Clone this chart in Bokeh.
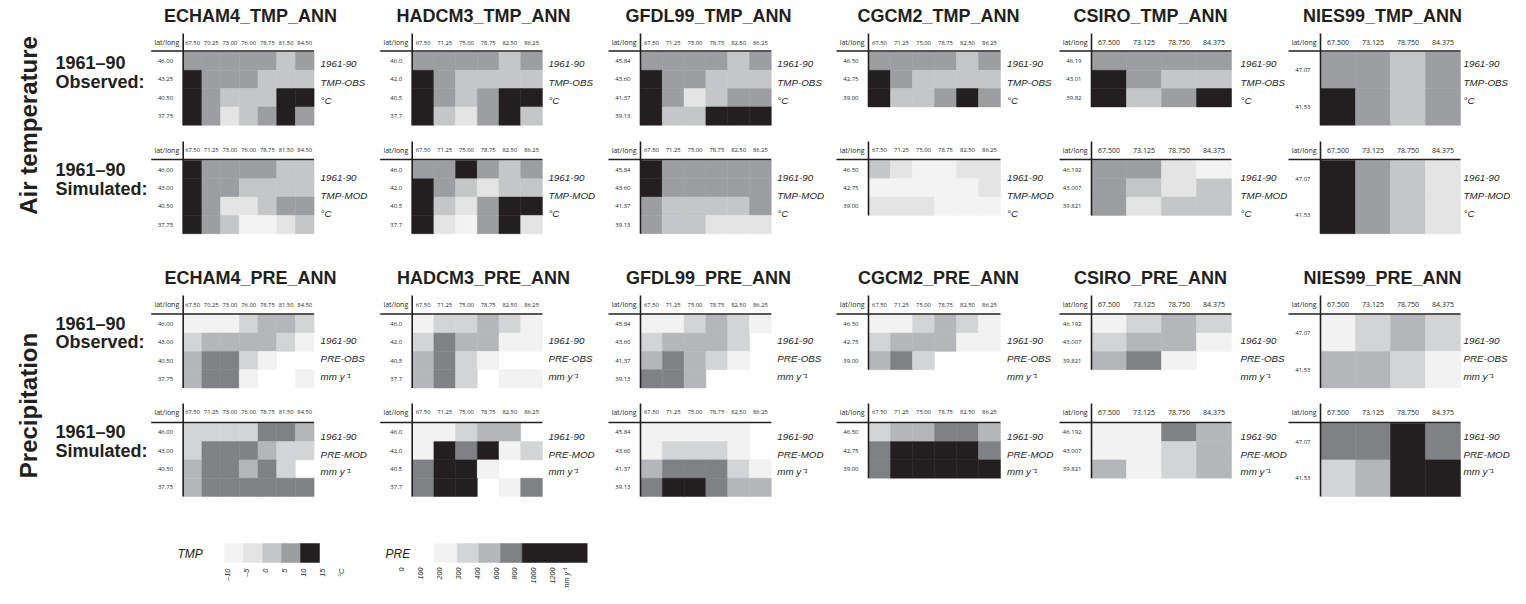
import numpy as np
from bokeh.plotting import figure
from bokeh.models import Range1d, ColumnDataSource
from bokeh.core.properties import value
from bokeh.embed import file_html
from bokeh.resources import INLINE

# ---------------- data ----------------
models = ["ECHAM4", "HADCM3", "GFDL99", "CGCM2", "CSIRO", "NIES99"]

echam4_lon_a = ["67.50", "70.25", "73.00", "76.00", "78.75", "81.50", "84.50"]
echam4_lon_b = ["67.50", "71.25", "73.00", "76.00", "78.75", "81.50", "84.50"]
echam4_lat_a = ["46.00", "43.25", "40.50", "37.75"]
echam4_lat_b = ["46.00", "43.00", "40.50", "37.75"]
hadcm3_lon = ["67.50", "71.25", "75.00", "78.75", "82.50", "86.25"]
hadcm3_lat = ["46.0", "42.0", "40.5", "37.7"]
gfdl99_lon = ["67.50", "71.25", "75.00", "78.75", "82.50", "86.25"]
gfdl99_lat = ["45.84", "43.60", "41.37", "39.13"]
cgcm2_lon = ["67.50", "71.25", "75.00", "78.75", "82.50", "86.25"]
cgcm2_lat = ["46.50", "42.75", "39.00"]
csiro_lon = ["67.500", "73.125", "78.750", "84.375"]
csiro_lat_a = ["46.19", "43.01", "39.82"]
csiro_lat_b = ["46.192", "43.007", "39.821"]
nies99_lon = ["67.500", "73.125", "78.750", "84.375"]
nies99_lat = ["47.07", "41.53"]

# annual mean air temperature, deg C (rows: north -> south)
echam4_tmp_obs = [[7.5, 7.5, 7.5, 7.5, 7.5, 2.5, 7.5],
                  [12.5, 7.5, 7.5, 7.5, 2.5, 2.5, 2.5],
                  [12.5, 7.5, 2.5, 2.5, 2.5, 12.5, 12.5],
                  [12.5, 7.5, -2.5, 2.5, 7.5, 12.5, 7.5]]
echam4_tmp_mod = [[12.5, 7.5, 7.5, 7.5, 7.5, 2.5, 2.5],
                  [12.5, 7.5, 7.5, 2.5, 2.5, 2.5, 2.5],
                  [12.5, 7.5, -2.5, -2.5, 2.5, 7.5, 7.5],
                  [12.5, 7.5, 2.5, -7.5, -7.5, -2.5, 2.5]]
hadcm3_tmp_obs = [[7.5, 7.5, 7.5, 7.5, 2.5, 7.5],
                  [12.5, 7.5, 2.5, 2.5, 2.5, 2.5],
                  [12.5, 7.5, 2.5, 7.5, 12.5, 12.5],
                  [12.5, 2.5, -2.5, 7.5, 12.5, 2.5]]
hadcm3_tmp_mod = [[7.5, 7.5, 12.5, 7.5, 2.5, 7.5],
                  [12.5, 7.5, 2.5, -2.5, 2.5, 2.5],
                  [12.5, 2.5, -2.5, 7.5, 12.5, 12.5],
                  [12.5, -2.5, -7.5, 7.5, 12.5, -2.5]]
gfdl99_tmp_obs = [[7.5, 7.5, 7.5, 7.5, 2.5, 7.5],
                  [12.5, 7.5, 7.5, 2.5, 2.5, 2.5],
                  [12.5, 7.5, -2.5, 2.5, 7.5, 7.5],
                  [12.5, 2.5, 2.5, 12.5, 12.5, 12.5]]
gfdl99_tmp_mod = [[12.5, 7.5, 7.5, 7.5, 7.5, 7.5],
                  [12.5, 7.5, 7.5, 7.5, 7.5, 7.5],
                  [7.5, 2.5, 2.5, 2.5, 2.5, 7.5],
                  [7.5, 2.5, 2.5, -2.5, -2.5, -2.5]]
cgcm2_tmp_obs = [[7.5, 7.5, 7.5, 7.5, 2.5, 7.5],
                 [12.5, 7.5, 2.5, 2.5, 2.5, 2.5],
                 [12.5, 2.5, 2.5, 7.5, 12.5, 7.5]]
cgcm2_tmp_mod = [[2.5, -2.5, -7.5, -7.5, -2.5, -2.5],
                 [-7.5, -7.5, -7.5, -7.5, -7.5, -2.5],
                 [-2.5, -2.5, -2.5, -7.5, -7.5, -7.5]]
csiro_tmp_obs = [[7.5, 7.5, 7.5, 7.5],
                 [12.5, 7.5, 2.5, 2.5],
                 [12.5, 2.5, 7.5, 12.5]]
csiro_tmp_mod = [[7.5, 7.5, -2.5, -7.5],
                 [7.5, 2.5, -2.5, 2.5],
                 [7.5, -2.5, 2.5, 2.5]]
nies99_tmp_obs = [[7.5, 7.5, 2.5, 7.5],
                  [12.5, 7.5, 2.5, 7.5]]
nies99_tmp_mod = [[12.5, 7.5, 2.5, -2.5],
                  [12.5, 7.5, 2.5, -2.5]]

# annual precipitation, mm per year (None = blank cell)
echam4_pre_obs = [[150, 150, 150, 250, 350, 350, 250],
                  [250, 350, 350, 350, 350, 250, 150],
                  [350, 500, 500, 250, 150, None, None],
                  [350, 500, 500, 150, None, None, 150]]
echam4_pre_mod = [[250, 250, 250, 250, 500, 500, 350],
                  [250, 500, 500, 500, 350, 250, 250],
                  [350, 500, 500, 350, 500, 250, None],
                  [350, 500, 500, 500, 500, 500, 500]]
hadcm3_pre_obs = [[150, 250, 250, 350, 250, 150],
                  [250, 500, 350, 350, 150, 150],
                  [350, 500, 250, 150, None, None],
                  [350, 500, 250, None, 150, 150]]
hadcm3_pre_mod = [[150, 150, 250, 350, 350, None],
                  [150, 800, 500, 800, 150, 250],
                  [500, 800, 800, 150, None, None],
                  [500, 800, 800, None, 150, 500]]
gfdl99_pre_obs = [[150, 150, 250, 350, 250, 150],
                  [250, 350, 350, 350, 250, None],
                  [350, 500, 350, 250, 150, None],
                  [500, 500, 350, None, None, None]]
gfdl99_pre_mod = [[150, 150, 150, 150, 150, None],
                  [150, 250, 250, 250, 150, None],
                  [350, 500, 500, 500, 250, 150],
                  [500, 800, 800, 500, 350, 350]]
cgcm2_pre_obs = [[150, 150, 250, 350, 250, 150],
                 [250, 350, 350, 350, 150, 150],
                 [350, 500, 250, None, None, None]]
cgcm2_pre_mod = [[250, 350, 350, 500, 500, 350],
                 [500, 800, 800, 800, 800, 500],
                 [500, 800, 800, 800, 800, 800]]
csiro_pre_obs = [[150, 250, 350, 250],
                 [250, 350, 350, 150],
                 [350, 500, 150, None]]
csiro_pre_mod = [[150, 150, 500, 350],
                 [150, 150, 250, 350],
                 [350, 150, 250, 350]]
nies99_pre_obs = [[150, 250, 350, 250],
                  [350, 350, 250, 150]]
nies99_pre_mod = [[500, 500, 800, 500],
                  [250, 350, 800, 800]]

# class breaks and legend
tmp_edges = [-10, -5, 0, 5, 10]
tmp_colors = ["#f2f3f2", "#e3e4e3", "#c5c6c7", "#9d9ea1", "#231f20"]
tmp_tick_labels = ["\u201310", "\u20135", "0", "5", "10", "15"]
pre_edges = [0, 200, 300, 400, 600]
pre_colors = ["#f1f2f1", "#d3d4d5", "#b5b6b9", "#808184", "#231f20"]
pre_tick_labels = ["0", "100", "200", "300", "400", "600", "800", "1000", "1200"]

panels = [
    ("tmp_obs", 0, echam4_lon_a, echam4_lat_a, echam4_tmp_obs),
    ("tmp_obs", 1, hadcm3_lon, hadcm3_lat, hadcm3_tmp_obs),
    ("tmp_obs", 2, gfdl99_lon, gfdl99_lat, gfdl99_tmp_obs),
    ("tmp_obs", 3, cgcm2_lon, cgcm2_lat, cgcm2_tmp_obs),
    ("tmp_obs", 4, csiro_lon, csiro_lat_a, csiro_tmp_obs),
    ("tmp_obs", 5, nies99_lon, nies99_lat, nies99_tmp_obs),
    ("tmp_mod", 0, echam4_lon_b, echam4_lat_b, echam4_tmp_mod),
    ("tmp_mod", 1, hadcm3_lon, hadcm3_lat, hadcm3_tmp_mod),
    ("tmp_mod", 2, gfdl99_lon, gfdl99_lat, gfdl99_tmp_mod),
    ("tmp_mod", 3, cgcm2_lon, cgcm2_lat, cgcm2_tmp_mod),
    ("tmp_mod", 4, csiro_lon, csiro_lat_b, csiro_tmp_mod),
    ("tmp_mod", 5, nies99_lon, nies99_lat, nies99_tmp_mod),
    ("pre_obs", 0, echam4_lon_a, echam4_lat_b, echam4_pre_obs),
    ("pre_obs", 1, hadcm3_lon, hadcm3_lat, hadcm3_pre_obs),
    ("pre_obs", 2, gfdl99_lon, gfdl99_lat, gfdl99_pre_obs),
    ("pre_obs", 3, cgcm2_lon, cgcm2_lat, cgcm2_pre_obs),
    ("pre_obs", 4, csiro_lon, csiro_lat_b, csiro_pre_obs),
    ("pre_obs", 5, nies99_lon, nies99_lat, nies99_pre_obs),
    ("pre_mod", 0, echam4_lon_b, echam4_lat_b, echam4_pre_mod),
    ("pre_mod", 1, hadcm3_lon, hadcm3_lat, hadcm3_pre_mod),
    ("pre_mod", 2, gfdl99_lon, gfdl99_lat, gfdl99_pre_mod),
    ("pre_mod", 3, cgcm2_lon, cgcm2_lat, cgcm2_pre_mod),
    ("pre_mod", 4, csiro_lon, csiro_lat_b, csiro_pre_mod),
    ("pre_mod", 5, nies99_lon, nies99_lat, nies99_pre_mod),
]

# ---------------- layout (picture-pixel coordinates) ----------------
col_x0 = [182.7, 411.7, 640.0, 868.0, 1091.0, 1320.0]
col_cw = [18.7, 21.7, 21.8, 22.0, 35.0, 35.0]
col_rh = [18.3, 18.3, 18.3, 18.3, 18.3, 36.6]
col_roff = [6.5, 6, 6, 6.5, 9, 3]
col_hfs = ["5.8px", "5.8px", "5.8px", "5.8px", "7px", "7px"]
title_cx = [250, 483, 708, 938, 1150, 1382]

bands = {
    "tmp_obs": dict(vtop=33, header=42, hline=50.5, ctop=51.5, y3=[63, 81.5, 100],
                    lab=["1961-90", "TMP-OBS", "\u00b0C"]),
    "tmp_mod": dict(vtop=141, header=149.5, hline=159, ctop=160, y3=[177, 195, 213],
                    lab=["1961-90", "TMP-MOD", "\u00b0C"]),
    "pre_obs": dict(vtop=295, header=304, hline=313.5, ctop=314.3, y3=[340, 358, 376],
                    lab=["1961-90", "PRE-OBS", "mm y\u207b\u00b9"]),
    "pre_mod": dict(vtop=403, header=411.5, hline=422, ctop=422.8, y3=[436, 454, 471],
                    lab=["1961-90", "PRE-MOD", "mm y\u207b\u00b9"]),
}

INK = "#231f20"
W, H = 1510, 588
p = figure(width=W, height=H, x_range=Range1d(0, W), y_range=Range1d(H, 0),
           x_axis_type=None, y_axis_type=None, output_backend="svg",
           toolbar_location=None, min_border=0)
p.grid.visible = False
p.outline_line_color = None


def cls_color(v, edges, colors):
    i = int(np.searchsorted(edges, v, side="right")) - 1
    return colors[min(max(i, 0), len(colors) - 1)]


cells = dict(l=[], r=[], t=[], b=[], c=[])
vl = dict(x0=[], y0=[], x1=[], y1=[])
hl = dict(x0=[], y0=[], x1=[], y1=[])
hdr = dict(x=[], y=[], t=[], fs=[])
rowl = dict(x=[], y=[], t=[])
ll = dict(x=[], y=[])
rl = dict(x=[], y=[], t=[])

for band, mi, lons, lats, vals in panels:
    b = bands[band]
    x0, cw, rh = col_x0[mi], col_cw[mi], col_rh[mi]
    edges, colors = (tmp_edges, tmp_colors) if band.startswith("tmp") else (pre_edges, pre_colors)
    nr, nc = len(lats), len(lons)
    for i, row in enumerate(vals):
        for j, v in enumerate(row):
            if v is None:
                continue
            cells["l"].append(x0 + j * cw)
            cells["r"].append(x0 + (j + 1) * cw)
            cells["t"].append(b["ctop"] + i * rh)
            cells["b"].append(b["ctop"] + (i + 1) * rh)
            cells["c"].append(cls_color(v, edges, colors))
    right = x0 + nc * cw
    vl["x0"].append(x0); vl["x1"].append(x0)
    vl["y0"].append(b["vtop"]); vl["y1"].append(b["ctop"] + nr * rh)
    hl["x0"].append(x0 - 32); hl["x1"].append(right)
    hl["y0"].append(b["hline"]); hl["y1"].append(b["hline"])
    ll["x"].append(x0 - 4); ll["y"].append(b["header"])
    for j, lab in enumerate(lons):
        hdr["x"].append(x0 + (j + 0.5) * cw); hdr["y"].append(b["header"])
        hdr["t"].append(lab); hdr["fs"].append(col_hfs[mi])
    for i, lab in enumerate(lats):
        rowl["x"].append(x0 - 10); rowl["y"].append(b["ctop"] + (i + 0.5) * rh)
        rowl["t"].append(lab)
    for k in range(3):
        rl["x"].append(right + col_roff[mi]); rl["y"].append(b["y3"][k]); rl["t"].append(b["lab"][k])

p.quad(left="l", right="r", top="t", bottom="b", fill_color="c", line_color="c",
       line_width=0.5, source=ColumnDataSource(cells))
p.segment(x0="x0", y0="y0", x1="x1", y1="y1", line_color=INK, line_width=1.6,
          source=ColumnDataSource(vl))
p.segment(x0="x0", y0="y0", x1="x1", y1="y1", line_color=INK, line_width=1.6,
          source=ColumnDataSource(hl))

myriad = value("Open Sans")
helv = value("Liberation Sans")

p.text(x="x", y="y", text="t", source=ColumnDataSource(hdr), text_font=myriad,
       text_font_size="fs", text_align="center", text_baseline="middle", text_color=INK)
p.text(x="x", y="y", text="t", source=ColumnDataSource(rowl), text_font=myriad,
       text_font_size=value("6px"), text_align="right", text_baseline="middle", text_color=INK)
p.text(x="x", y="y", text=value("lat/long"), source=ColumnDataSource(ll), text_font=myriad,
       text_font_size=value("7px"), text_align="right", text_baseline="middle", text_color=INK)
p.text(x="x", y="y", text="t", source=ColumnDataSource(rl), text_font=helv,
       text_font_style="italic", text_font_size=value("9.8px"), text_align="left",
       text_baseline="middle", text_color=INK)

# titles
tt = dict(x=[], y=[], t=[])
for mi, m in enumerate(models):
    tt["x"] += [title_cx[mi], title_cx[mi]]
    tt["y"] += [15, 277]
    tt["t"] += [m + "_TMP_ANN", m + "_PRE_ANN"]
p.text(x="x", y="y", text="t", source=ColumnDataSource(tt), text_font=helv,
       text_font_style="bold", text_font_size=value("18px"), text_align="center",
       text_baseline="middle", text_color=INK)

# row labels on the left
lt = dict(x=[55] * 8, y=[62, 81.5, 169.5, 188, 323, 341.5, 431.5, 450],
          t=["1961\u201390", "Observed:", "1961\u201390", "Simulated:",
             "1961\u201390", "Observed:", "1961\u201390", "Simulated:"])
p.text(x="x", y="y", text="t", source=ColumnDataSource(lt), text_font=helv,
       text_font_style="bold", text_font_size=value("18px"), text_align="left",
       text_baseline="middle", text_color=INK)

p.text(x=[28, 28], y=[125, 405], text=["Air temperature", "Precipitation"], angle=np.pi / 2,
       text_font=helv, text_font_style="bold", text_font_size=value("24px"),
       text_align="center", text_baseline="middle", text_color=INK)

# ---------------- legends ----------------
sw_top, sw_bot = 543, 562
tl = [224 + i * 19 for i in range(len(tmp_colors))]
p.quad(left=tl, right=[v + 19 for v in tl], top=[sw_top] * 5, bottom=[sw_bot] * 5,
       fill_color=tmp_colors, line_color=tmp_colors, line_width=0.5)
pw = [22.7, 21.6, 21.7, 21.7, 65.0]
pl = list(434 + np.concatenate([[0], np.cumsum(pw)[:-1]]))
p.quad(left=pl, right=[a + w for a, w in zip(pl, pw)], top=[sw_top] * 5, bottom=[sw_bot] * 5,
       fill_color=pre_colors, line_color=pre_colors, line_width=0.5)
p.text(x=[177, 385], y=[553, 553], text=["TMP", "PRE"], text_font=helv, text_font_style="italic",
       text_font_size=value("12px"), text_align="left", text_baseline="middle", text_color=INK)
tx = [227.3 + i * 19 for i in range(len(tmp_tick_labels) + 1)]
p.text(x=tx, y=[568] * len(tx), text=tmp_tick_labels + ["\u00b0C"], angle=np.pi / 2,
       text_font=helv, text_font_style="italic", text_font_size=value("7.5px"),
       text_align="right", text_baseline="middle", text_color=INK)
px = [401 + i * 18.9 for i in range(len(pre_tick_labels))]
px.append(px[-1] + 14)
p.text(x=px, y=[567] * len(px), text=pre_tick_labels + ["mm y\u207b\u00b9"], angle=np.pi / 2,
       text_font=helv, text_font_style="italic", text_font_size=value("7.2px"),
       text_align="right", text_baseline="middle", text_color=INK)

open("out.html", "w").write(file_html(p, INLINE))
